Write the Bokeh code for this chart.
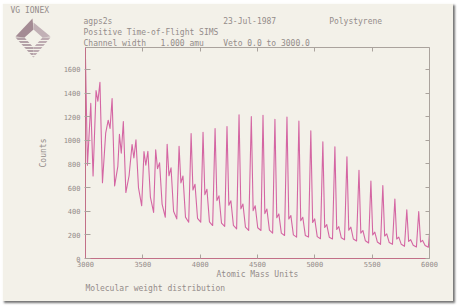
from bokeh.plotting import figure
from bokeh.models import Range1d, LinearAxis, FixedTicker, Title, ColumnDataSource
from bokeh.embed import file_html
from bokeh.resources import INLINE

# ---------------- data ----------------
lead_mass = [3000, 3017, 3046, 3066]
lead_counts = [1690, 790, 1312, 698]

peak_mass = [3092, 3198, 3296, 3406, 3510, 3612, 3712, 3816, 3921, 4025, 4130, 4234, 4339, 4446,
             4548, 4652, 4757, 4861, 4965, 5070, 5175, 5280, 5385, 5489, 5593, 5698, 5802, 5906]
peak_counts = [1420, 1170, 1050, 965, 905, 920, 967, 950, 1058, 1067, 1100, 1117, 1215, 1200,
               1212, 1178, 1196, 1162, 1080, 988, 945, 860, 747, 656, 617, 503, 413, 398]
dip_counts = [1330, 1100, 890, 850, 790, 760, 700, 640, 580, 540, 490, 450, 420, 405,
              380, 345, 335, 320, 305, 262, 245, 240, 215, 200, 190, 165, 145, 140]
second_counts = [1490, 1354, 1158, 1005, 907, 809, 767, 698, 628, 586, 530, 488, 461, 446,
                 419, 377, 363, 349, 335, 287, 270, 265, 237, 223, 209, 181, 159, 153]
tail_counts = [641, 614, 558, 600, 520, 460, 400, 350, 340, 310, 300, 280, 265, 260,
               240, 215, 200, 195, 185, 180, 175, 165, 150, 140, 135, 120, 112, 110]
valley_counts = [1060, 780, 700, 446, 390, 349, 335, 307, 307, 279, 272, 251, 237, 237,
                 215, 195, 181, 181, 167, 165, 159, 148, 131, 120, 120, 103, 97, 95]
end_mass = [6000]
end_counts = [215]

x_ticks = [3000, 3500, 4000, 4500, 5000, 5500, 6000]
y_ticks = [0, 200, 400, 600, 800, 1000, 1200, 1400, 1600]

NB = "\u00a0"
header_lines = [
    "VG IONEX",
    "agps2s" + NB * 23 + "23-Jul-1987" + NB * 11 + "Polystyrene",
    "Positive Time-of-Flight SIMS",
    "Channel width" + NB * 3 + "1.000 amu" + NB * 4 + "Veto 0.0 to 3000.0",
]
footer_line = "Molecular weight distribution"

# logo (diamond bands), in page-pixel units of the small logo figure
logo_xs = [[15, 32, 33, 24], [33, 50, 42, 33], [15, 24, 33, 33], [33, 33, 42, 50]]
logo_ys = [[36, 18, 29, 37], [22, 36, 37, 29], [37, 37, 47, 57], [57, 47, 37, 37]]
logo_colors = ["#a48b94", "#c2b1b6", "#b3a1a7", "#bdabb1"]
stripe_y = [40, 43, 46, 49, 52, 55]

# ---------------- assemble the trace ----------------
xs = list(lead_mass)
ys = list(lead_counts)
for m, pk, d, s, t, v in zip(peak_mass, peak_counts, dip_counts, second_counts, tail_counts, valley_counts):
    xs += [m, m + 16, m + 34, m + 56, m + 84]
    ys += [pk, d, s, t, v]
xs += end_mass
ys += end_counts
src = ColumnDataSource(dict(mass=xs, counts=ys))

# ---------------- styling ----------------
PAPER = "#f3f1e9"
TRACE = "#d466a3"
TEXT = "#948c89"
AXIS_LB = "#c27088"
AXIS_TR = "#aaa39d"
MONO = "DejaVu Sans Mono"

W, H = 451, 298
p = figure(width=W, height=H, x_range=Range1d(3000, 6000), y_range=Range1d(0, 1785),
           output_backend="svg", toolbar_location=None, title=None,
           min_border_left=83, min_border_right=24, min_border_top=42, min_border_bottom=43,
           background_fill_color=PAPER, border_fill_color=PAPER, outline_line_color=None)
p.styles = {"margin-left": "2px", "margin-top": "3px",
            "box-shadow": "2px 2px 2px rgba(70,70,70,0.75)"}
p.xgrid.visible = False
p.ygrid.visible = False

p.line("mass", "counts", source=src, line_color=TRACE, line_width=1.1, line_join="round")

xa = p.xaxis[0]
xa.ticker = FixedTicker(ticks=x_ticks)
xa.axis_label = "Atomic Mass Units"
xa.axis_label_text_font = MONO
xa.axis_label_text_font_style = "normal"
xa.axis_label_text_font_size = "8px"
xa.axis_label_text_color = TEXT
xa.axis_label_standoff = 0
xa.major_label_text_font = MONO
xa.major_label_text_font_size = "7px"
xa.major_label_text_color = TEXT
xa.major_label_standoff = 2
xa.axis_line_color = AXIS_LB
xa.major_tick_line_color = AXIS_TR
xa.major_tick_in = 4
xa.major_tick_out = 0
xa.minor_tick_line_color = None

ya = p.yaxis[0]
ya.ticker = FixedTicker(ticks=y_ticks)
ya.axis_label = "Counts"
ya.axis_label_text_font = MONO
ya.axis_label_text_font_style = "normal"
ya.axis_label_text_font_size = "8px"
ya.axis_label_text_color = TEXT
ya.axis_label_standoff = 13
ya.major_label_text_font = MONO
ya.major_label_text_font_size = "7px"
ya.major_label_text_color = TEXT
ya.major_label_standoff = 4
ya.axis_line_color = AXIS_LB
ya.major_tick_line_color = AXIS_TR
ya.major_tick_in = 5
ya.major_tick_out = 1
ya.minor_tick_line_color = None

top = LinearAxis(ticker=FixedTicker(ticks=x_ticks), major_label_text_color=None,
                 major_label_text_font_size="1px", major_label_standoff=0,
                 major_tick_in=4, major_tick_out=0, minor_tick_line_color=None,
                 axis_line_color=AXIS_TR, major_tick_line_color=AXIS_TR)
p.add_layout(top, "above")
right = LinearAxis(ticker=FixedTicker(ticks=y_ticks), major_label_text_color=None,
                   major_label_text_font_size="1px", major_label_standoff=0,
                   major_tick_in=4, major_tick_out=0, minor_tick_line_color=None,
                   axis_line_color=AXIS_TR, major_tick_line_color=AXIS_TR)
p.add_layout(right, "right")

# header lines, stacked outward from the frame (nearest first)
offsets = {0: -75, 1: -2, 2: -2, 3: -2}
for i in [3, 2, 1, 0]:
    p.add_layout(Title(text=header_lines[i], align="left", offset=offsets[i], standoff=0,
                       text_font=MONO, text_font_size="8px", text_font_style="normal",
                       text_color=TEXT, text_line_height=1.0), "above")
p.add_layout(Title(text=footer_line, align="left", offset=0, standoff=0,
                   text_font=MONO, text_font_size="8px", text_font_style="normal",
                   text_color=TEXT, text_line_height=1.0), "below")

# small logo figure, a second root positioned over the top-left corner of the page
lg = figure(width=37, height=41, x_range=Range1d(14, 51), y_range=Range1d(58, 17),
            output_backend="svg", toolbar_location=None, title=None,
            x_axis_location=None, y_axis_location=None,
            min_border=0, background_fill_color=PAPER, border_fill_color=PAPER,
            outline_line_color=None)
lg.grid.visible = False
lg.patches(logo_xs, logo_ys, fill_color=logo_colors, line_color=None)
lg.segment(x0=[15] * len(stripe_y), y0=stripe_y, x1=[51] * len(stripe_y), y1=stripe_y,
           line_color=PAPER, line_width=1)
lg.styles = {"position": "absolute", "left": "14px", "top": "17px"}

open("out.html", "w").write(file_html([p, lg], INLINE))
